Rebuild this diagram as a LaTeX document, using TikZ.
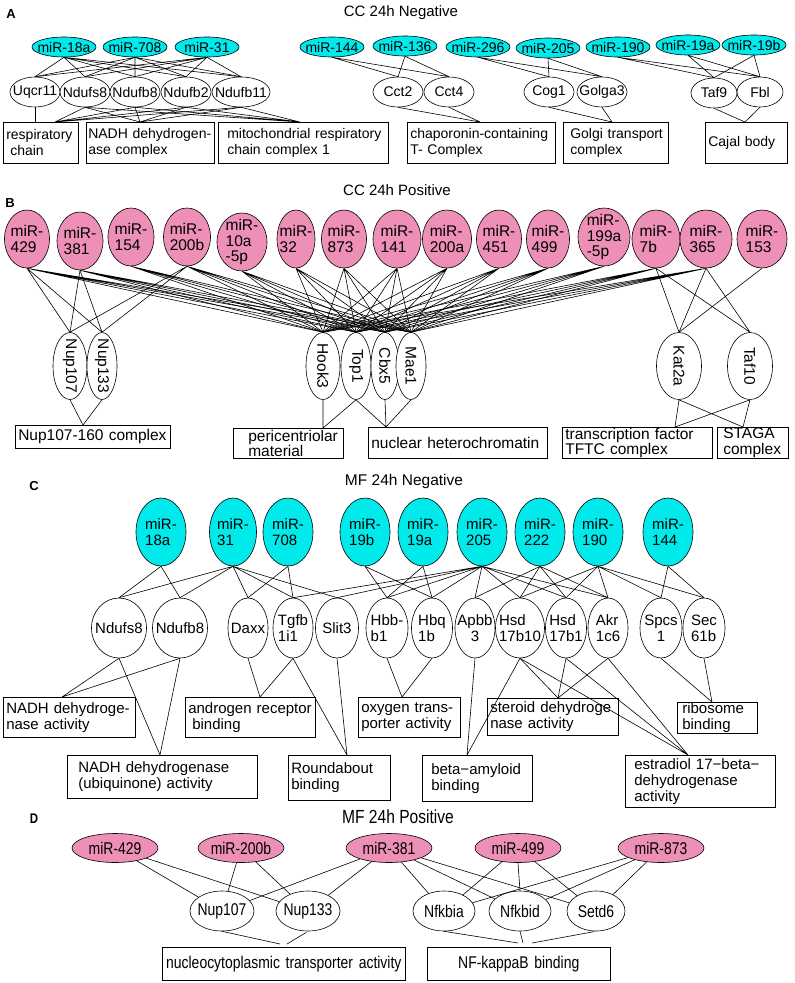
\documentclass[tikz,border=0pt]{standalone}
\usepackage{fontspec}
\setmainfont{Liberation Sans}
\newfontfamily\narrowfont[FakeStretch=0.82]{Liberation Sans}
\usetikzlibrary{shapes}

\definecolor{mircyan}{RGB}{0,234,236}
\definecolor{mirpink}{RGB}{237,143,183}

\begin{document}
\begin{tikzpicture}[x=1pt,y=-1pt,line width=0.6pt,
  mira/.style= {shape=ellipse,draw,inner sep=0,fill=mircyan,minimum width=64pt,minimum height=20pt},
  genea/.style= {shape=ellipse,draw,inner sep=0,fill=white,minimum width=50pt,minimum height=30pt},
  mirb/.style= {shape=ellipse,draw,inner sep=0,fill=mirpink,minimum width=46pt,minimum height=58pt},
  geneb/.style= {shape=ellipse,draw,inner sep=0,fill=white,minimum width=32pt,minimum height=67pt},
  mirc/.style= {shape=ellipse,draw,inner sep=0,fill=mircyan,minimum width=50pt,minimum height=68pt},
  genec/.style= {shape=ellipse,draw,inner sep=0,fill=white,minimum width=42pt,minimum height=60pt},
  mird/.style= {shape=ellipse,draw,inner sep=0,fill=mirpink,minimum width=86pt,minimum height=29pt},
  gened/.style= {shape=ellipse,draw,inner sep=0,fill=white,minimum width=64pt,minimum height=40pt},
  gobox/.style= {draw,anchor=north west,align=left,inner xsep=3pt,inner ysep=0pt},
  lbl/.style= {inner sep=0,align=left},
  heading/.style= {inner sep=0,anchor=base},
  tag/.style= {inner sep=0,anchor=base,font=\bfseries\fontsize{13}{15}\selectfont}]
  \fill[white] (0,0) rectangle (795,983);
  \useasboundingbox (0,0) rectangle (795,983);

  % Panel A
  \begin{scope}[font=\fontsize{14}{16}\selectfont]
  {\node[tag] (atag) at (11,18) {A};}
  {\node[heading,font=\fontsize{15}{17}\selectfont] (atitle) at (401,16) {CC 24h Negative};}
  % miRNAs
  {\node[mira] (a18a) at (64,47) { };}
  {\node[mira] (a708) at (135,47) { };}
  {\node[mira] (a31) at (207,47) { };}
  {\node[mira] (a144) at (332,47) { };}
  {\node[mira] (a136) at (405,46) { };}
  {\node[mira] (a296) at (478,47) { };}
  {\node[mira] (a205) at (548,48) { };}
  {\node[mira] (a190) at (618,47) { };}
  {\node[mira] (a19a) at (688,45) { };}
  {\node[mira] (a19b) at (754,45) { };}
  % genes
  {\node[genea] (auqcr) at (35,92) { };}
  {\node[genea] (andufs8) at (85,92) { };}
  {\node[genea] (andufb8) at (135,92) { };}
  {\node[genea] (andufb2) at (186,92) { };}
  {\node[genea][minimum width=58pt] (andufb11) at (241,92) { };}
  {\node[genea] (acct2) at (398,92) { };}
  {\node[genea] (acct4) at (449,92) { };}
  {\node[genea] (acog1) at (549,92) { };}
  {\node[genea] (agolga3) at (602,92) { };}
  {\node[genea][minimum width=46pt] (ataf9) at (714,93) { };}
  {\node[genea][minimum width=46pt] (afbl) at (760,92) { };}
  % labels
  {\node[lbl] (ta18a) at (a18a) {miR-18a};}
  {\node[lbl] (ta708) at (a708) {miR-708};}
  {\node[lbl] (ta31) at (a31) {miR-31};}
  {\node[lbl] (ta144) at (a144) {miR-144};}
  {\node[lbl] (ta136) at (a136) {miR-136};}
  {\node[lbl] (ta296) at (a296) {miR-296};}
  {\node[lbl] (ta205) at (a205) {miR-205};}
  {\node[lbl] (ta190) at (a190) {miR-190};}
  {\node[lbl] (ta19a) at (a19a) {miR-19a};}
  {\node[lbl] (ta19b) at (a19b) {miR-19b};}
  {\node[lbl] (tauqcr) at (auqcr) {Uqcr11};}
  {\node[lbl] (tandufs8) at (andufs8) {Ndufs8};}
  {\node[lbl] (tandufb8) at (andufb8) {Ndufb8};}
  {\node[lbl] (tandufb2) at (andufb2) {Ndufb2};}
  {\node[lbl] (tandufb11) at (andufb11) {Ndufb11};}
  {\node[lbl] (tacct2) at (acct2) {Cct2};}
  {\node[lbl] (tacct4) at (acct4) {Cct4};}
  {\node[lbl] (tacog1) at (acog1) {Cog1};}
  {\node[lbl] (tagolga3) at (agolga3) {Golga3};}
  {\node[lbl] (tataf9) at (ataf9) {Taf9};}
  {\node[lbl] (tafbl) at (afbl) {Fbl};}
  % GO terms
  {\node[gobox,text width=69pt,minimum height=41pt] (aresp) at (3,122) {respiratory\\\hspace{4pt}chain};}
  {\node[gobox,inner xsep=2pt,text width=124pt,minimum height=41pt] (anadh) at (86,122) {NADH dehydrogen-\\ase complex};}
  {\node[gobox,text width=164pt,minimum height=41pt] (amito) at (218,122) {\hspace{6pt}mitochondrial respiratory\\\hspace{6pt}chain complex 1};}
  {\node[gobox,text width=142pt,minimum height=41pt] (achap) at (407,122) {chaporonin-containing\\T- Complex};}
  {\node[gobox,text width=99pt,minimum height=41pt] (agolgi) at (563,122) {\hspace{4pt}Golgi transport\\\hspace{4pt}complex};}
  {\node[gobox,text width=76pt,minimum height=41pt] (acajal) at (705,122) {Cajal body};}
  \coordinate (arespin) at (55,122);
  \coordinate (arespv) at (auqcr.south |- arespin);
  \coordinate (anadhin) at (140,122);
  \coordinate (amitoin) at (300,122);
  \coordinate (achapin) at (480,122);
  \coordinate (agolgin) at (612,122);
  \coordinate (acajin) at (745,122);
  % edges
  \draw (a18a.south) -- (auqcr.north) (a18a.south) -- (andufs8.north) (a18a.south) -- (andufb8.north) (a18a.south) -- (andufb2.north) (a18a.south) -- (andufb11.north);
  \draw (a708.south) -- (auqcr.north) (a708.south) -- (andufs8.north) (a708.south) -- (andufb8.north) (a708.south) -- (andufb2.north) (a708.south) -- (andufb11.north);
  \draw (a31.south) -- (auqcr.north) (a31.south) -- (andufs8.north) (a31.south) -- (andufb8.north) (a31.south) -- (andufb2.north) (a31.south) -- (andufb11.north);
  \draw (a144.south) -- (acct2.north) (a144.south) -- (acct4.north) (a136.south) -- (acct2.north) (a136.south) -- (acct4.north);
  \draw (a296.south) -- (acog1.north) (a296.south) -- (agolga3.north) (a205.south) -- (acog1.north) (a205.south) -- (agolga3.north);
  \draw (a190.south) -- (ataf9.north) (a190.south) -- (afbl.north) (a19a.south) -- (ataf9.north) (a19a.south) -- (afbl.north) (a19b.south) -- (ataf9.north) (a19b.south) -- (afbl.north);
  \draw (auqcr.south) -- (arespv);
  \draw (andufs8.south) -- (arespin) (andufb8.south) -- (arespin) (andufb2.south) -- (arespin) (andufb11.south) -- (arespin);
  \draw (andufs8.south) -- (anadhin) (andufb8.south) -- (anadhin) (andufb2.south) -- (anadhin) (andufb11.south) -- (anadhin);
  \draw (andufs8.south) -- (amitoin) (andufb8.south) -- (amitoin) (andufb2.south) -- (amitoin) (andufb11.south) -- (amitoin);
  \draw (acct2.south) -- (achapin) (acct4.south) -- (achapin);
  \draw (acog1.south) -- (agolgin) (agolga3.south) -- (agolgin);
  \draw (ataf9.south) -- (acajin) (afbl.south) -- (acajin);
  \end{scope}

  % Panel B
  \begin{scope}[font=\fontsize{15.5}{15.5}\selectfont]
  {\node[tag] (btag) at (10,207) {B};}
  {\node[heading,font=\fontsize{15}{17}\selectfont] (btitle) at (397,195) {CC 24h Positive};}
  % miRNAs
  {\node[mirb][minimum width=45pt] (b429) at (27,239) { };}
  {\node[mirb] (b381) at (80,241) { };}
  {\node[mirb] (b154) at (131,237) { };}
  {\node[mirb][minimum width=47pt] (b200b) at (187,237) { };}
  {\node[mirb][minimum width=50pt] (b10a) at (242,242) { };}
  {\node[mirb][minimum width=38pt] (b32) at (296,239) { };}
  {\node[mirb][minimum width=45pt] (b873) at (344,239) { };}
  {\node[mirb][minimum width=48pt] (b141) at (397,239) { };}
  {\node[mirb][minimum width=49pt] (b200a) at (447,239) { };}
  {\node[mirb][minimum width=45pt] (b451) at (499,239) { };}
  {\node[mirb][minimum width=43pt] (b499) at (548,239) { };}
  {\node[mirb][minimum width=52pt] (b199a) at (604,237) { };}
  {\node[mirb][minimum width=48pt] (b7b) at (656,239) { };}
  {\node[mirb][minimum width=52pt] (b365) at (706,239) { };}
  {\node[mirb][minimum width=50pt] (b153) at (762,239) { };}
  % genes
  {\node[geneb][minimum width=34pt] (bnup107) at (70,366) { };}
  {\node[geneb][minimum width=30pt] (bnup133) at (102,366) { };}
  {\node[geneb][minimum width=34pt] (bhook3) at (323,366) { };}
  {\node[geneb][minimum width=30pt] (btop1) at (356,366) { };}
  {\node[geneb][minimum width=28pt] (bcbx5) at (385,366) { };}
  {\node[geneb][minimum width=30pt] (bmae1) at (411,366) { };}
  {\node[geneb][minimum width=45pt] (bkat2a) at (679,366) { };}
  {\node[geneb][minimum width=45pt] (btaf10) at (750,366) { };}
  % labels
  {\node[lbl] (tb429) at (b429) {miR-\\429};}
  {\node[lbl] (tb381) at (b381) {miR-\\381};}
  {\node[lbl] (tb154) at (b154) {miR-\\154};}
  {\node[lbl] (tb200b) at (b200b) {miR-\\200b};}
  {\node[lbl] (tb10a) at (b10a) {miR-\\10a\\-5p};}
  {\node[lbl] (tb32) at (b32) {miR-\\32};}
  {\node[lbl] (tb873) at (b873) {miR-\\873};}
  {\node[lbl] (tb141) at (b141) {miR-\\141};}
  {\node[lbl] (tb200a) at (b200a) {miR-\\200a};}
  {\node[lbl] (tb451) at (b451) {miR-\\451};}
  {\node[lbl] (tb499) at (b499) {miR-\\499};}
  {\node[lbl] (tb199a) at (b199a) {miR-\\199a\\-5p};}
  {\node[lbl] (tb7b) at (b7b) {miR-\\7b};}
  {\node[lbl] (tb365) at (b365) {miR-\\365};}
  {\node[lbl] (tb153) at (b153) {miR-\\153};}
  {\node[lbl,rotate=-90] (tbnup107) at (bnup107) {Nup107};}
  {\node[lbl,rotate=-90] (tbnup133) at (bnup133) {Nup133};}
  {\node[lbl,rotate=-90] (tbhook3) at (bhook3) {Hook3};}
  {\node[lbl,rotate=-90] (tbtop1) at (btop1) {Top1};}
  {\node[lbl,rotate=-90] (tbcbx5) at (bcbx5) {Cbx5};}
  {\node[lbl,rotate=-90] (tbmae1) at (bmae1) {Mae1};}
  {\node[lbl,rotate=-90] (tbkat2a) at (bkat2a) {Kat2a};}
  {\node[lbl,rotate=-90] (tbtaf10) at (btaf10) {Taf10};}
  % GO terms
  {\node[gobox,text width=149pt,minimum height=23pt] (bnupcx) at (15,425) {Nup107-160 complex};}
  {\node[gobox,text width=104pt,minimum height=30pt] (bpcm) at (233,428) {\hspace{12pt}pericentriolar\\\hspace{12pt}material};}
  {\node[gobox,text width=173pt,minimum height=31pt] (bnhc) at (368,427) {nuclear heterochromatin};}
  {\node[gobox,text width=144pt,minimum height=31pt] (btftc) at (562,427) {transcription factor\\TFTC complex};}
  {\node[gobox,text width=65pt,minimum height=31pt] (bstaga) at (717,427) {\hspace{3pt}STAGA\\\hspace{3pt}complex};}
  \coordinate (bnupin) at (83,425);
  \coordinate (bpcmin) at (323,428);
  \coordinate (bnhcin) at (386,427);
  \coordinate (btftcin) at (675,427);
  \coordinate (bstagin) at (743,427);
  % edges
  \draw (b429.south) -- (bnup107.north) (b429.south) -- (bnup133.north) (b381.south) -- (bnup107.north) (b381.south) -- (bnup133.north) (b200b.south) -- (bnup107.north) (b200b.south) -- (bnup133.north);
  \draw (b429.south) -- (bhook3.north) (b429.south) -- (btop1.north) (b429.south) -- (bcbx5.north) (b429.south) -- (bmae1.north);
  \draw (b381.south) -- (bhook3.north) (b381.south) -- (btop1.north) (b381.south) -- (bcbx5.north) (b381.south) -- (bmae1.north);
  \draw (b154.south) -- (bhook3.north) (b154.south) -- (btop1.north) (b154.south) -- (bcbx5.north) (b154.south) -- (bmae1.north);
  \draw (b200b.south) -- (bhook3.north) (b200b.south) -- (btop1.north) (b200b.south) -- (bcbx5.north) (b200b.south) -- (bmae1.north);
  \draw (b10a.south) -- (bhook3.north) (b10a.south) -- (btop1.north) (b10a.south) -- (bcbx5.north) (b10a.south) -- (bmae1.north);
  \draw (b32.south) -- (bhook3.north) (b32.south) -- (btop1.north) (b32.south) -- (bcbx5.north) (b32.south) -- (bmae1.north);
  \draw (b873.south) -- (bhook3.north) (b873.south) -- (btop1.north) (b873.south) -- (bcbx5.north) (b873.south) -- (bmae1.north);
  \draw (b141.south) -- (bhook3.north) (b141.south) -- (btop1.north) (b141.south) -- (bcbx5.north) (b141.south) -- (bmae1.north);
  \draw (b200a.south) -- (bhook3.north) (b200a.south) -- (btop1.north) (b200a.south) -- (bcbx5.north) (b200a.south) -- (bmae1.north);
  \draw (b451.south) -- (bhook3.north) (b451.south) -- (btop1.north) (b451.south) -- (bcbx5.north) (b451.south) -- (bmae1.north);
  \draw (b499.south) -- (bhook3.north) (b499.south) -- (btop1.north) (b499.south) -- (bcbx5.north) (b499.south) -- (bmae1.north);
  \draw (b199a.south) -- (bhook3.north) (b199a.south) -- (btop1.north) (b199a.south) -- (bcbx5.north) (b199a.south) -- (bmae1.north);
  \draw (b7b.south) -- (bhook3.north) (b7b.south) -- (btop1.north) (b7b.south) -- (bcbx5.north) (b7b.south) -- (bmae1.north);
  \draw (b365.south) -- (bhook3.north) (b365.south) -- (btop1.north) (b365.south) -- (bcbx5.north) (b365.south) -- (bmae1.north);
  \draw (b7b.south) -- (bkat2a.north) (b7b.south) -- (btaf10.north) (b365.south) -- (bkat2a.north) (b365.south) -- (btaf10.north) (b153.south) -- (bkat2a.north);
  \draw (bnup107.south) -- (bnupin) (bnup133.south) -- (bnupin);
  \draw (bhook3.south) -- (bpcmin) (btop1.south) -- (bpcmin);
  \draw (btop1.south) -- (bnhcin) (bcbx5.south) -- (bnhcin) (bmae1.south) -- (bnhcin);
  \draw (bkat2a.south) -- (btftcin) (btaf10.south) -- (btftcin) (bkat2a.south) -- (bstagin) (btaf10.south) -- (bstagin);
  \end{scope}

  % Panel C
  \begin{scope}[font=\fontsize{15}{16}\selectfont]
  {\node[tag] (ctag) at (34,490) {C};}
  {\node[heading,font=\fontsize{15.5}{17}\selectfont] (ctitle) at (404,485) {MF 24h Negative};}
  % miRNAs
  {\node[mirc] (c18a) at (161,532) { };}
  {\node[mirc][minimum width=47pt] (c31) at (233,532) { };}
  {\node[mirc] (c708) at (288,532) { };}
  {\node[mirc] (c19b) at (365,532) { };}
  {\node[mirc] (c19a) at (423,532) { };}
  {\node[mirc] (c205) at (482,532) { };}
  {\node[mirc] (c222) at (540,532) { };}
  {\node[mirc] (c190) at (598,532) { };}
  {\node[mirc] (c144) at (668,532) { };}
  % genes
  {\node[genec][minimum width=55pt] (cndufs8) at (119,628) { };}
  {\node[genec][minimum width=55pt] (cndufb8) at (180,628) { };}
  {\node[genec][minimum width=40pt] (cdaxx) at (248,628) { };}
  {\node[genec][minimum width=40pt] (ctgfb) at (293,628) { };}
  {\node[genec][minimum width=43pt] (cslit3) at (337,628) { };}
  {\node[genec] (chbb) at (387,628) { };}
  {\node[genec][minimum width=41pt] (chbq) at (432,628) { };}
  {\node[genec][minimum width=40pt] (capbb) at (475,628) { };}
  {\node[genec][minimum width=49pt] (chsd10) at (520,628) { };}
  {\node[genec][minimum width=41pt] (chsd1) at (566,628) { };}
  {\node[genec][minimum width=40pt] (cakr) at (608,628) { };}
  {\node[genec] (cspcs) at (661,628) { };}
  {\node[genec] (csec) at (704,628) { };}
  % labels
  {\node[lbl] (tc18a) at (c18a) {miR-\\18a};}
  {\node[lbl] (tc31) at (c31) {miR-\\31};}
  {\node[lbl] (tc708) at (c708) {miR-\\708};}
  {\node[lbl] (tc19b) at (c19b) {miR-\\19b};}
  {\node[lbl] (tc19a) at (c19a) {miR-\\19a};}
  {\node[lbl] (tc205) at (c205) {miR-\\205};}
  {\node[lbl] (tc222) at (c222) {miR-\\222};}
  {\node[lbl] (tc190) at (c190) {miR-\\190};}
  {\node[lbl] (tc144) at (c144) {miR-\\144};}
  {\node[lbl] (tcndufs8) at (cndufs8) {Ndufs8};}
  {\node[lbl] (tcndufb8) at (cndufb8) {Ndufb8};}
  {\node[lbl] (tcdaxx) at (cdaxx) {Daxx};}
  {\node[lbl] (tctgfb) at (ctgfb) {Tgfb\\1i1};}
  {\node[lbl] (tcslit3) at (cslit3) {Slit3};}
  {\node[lbl] (tchbb) at (chbb) {Hbb-\\b1};}
  {\node[lbl] (tchbq) at (chbq) {Hbq\\1b};}
  {\node[lbl,align=center] (tcapbb) at (capbb) {Apbb\\3};}
  {\node[lbl] (tchsd10) at (chsd10) {Hsd\\17b10};}
  {\node[lbl] (tchsd1) at (chsd1) {Hsd\\17b1};}
  {\node[lbl] (tcakr) at (cakr) {Akr\\1c6};}
  {\node[lbl,align=center] (tcspcs) at (cspcs) {Spcs\\1};}
  {\node[lbl] (tcsec) at (csec) {Sec\\61b};}
  % GO terms
  {\node[gobox,text width=126pt,minimum height=40pt] (cnadh) at (3,697) {NADH dehydroge-\\nase activity};}
  {\node[gobox,text width=124pt,minimum height=40pt] (candro) at (185,697) {androgen receptor\\\hspace{4pt}binding};}
  {\node[gobox,text width=96pt,minimum height=40pt] (coxy) at (358,697) {oxygen trans-\\porter activity};}
  {\node[gobox,text width=125pt,minimum height=37pt] (cster) at (487,698) {steroid dehydroge\\nase activity};}
  {\node[gobox,text width=74pt,minimum height=31pt] (cribo) at (677,702) {\hspace{2pt}ribosome\\\hspace{2pt}binding};}
  {\node[gobox,text width=184pt,minimum height=43pt] (cubiq) at (67,755) {\hspace{8pt}NADH dehydrogenase\\\hspace{8pt}(ubiquinone) activity};}
  {\node[gobox,text width=96pt,minimum height=45pt] (crobo) at (288,755) {Roundabout\\binding};}
  {\node[gobox,text width=104pt,minimum height=46pt] (camyl) at (422,755) {\hspace{6pt}beta−amyloid\\\hspace{6pt}binding};}
  {\node[gobox,text width=144pt,minimum height=52pt] (cestr) at (625,755) {\hspace{6pt}estradiol 17−beta−\\\hspace{6pt}dehydrogenase\\\hspace{6pt}activity};}
  \coordinate (cnadhin) at (62,697);
  \coordinate (cubiqin) at (160,755);
  \coordinate (candroin) at (260,697);
  \coordinate (crobin) at (347,755);
  \coordinate (coxyin) at (402,697);
  \coordinate (camylin) at (467,755);
  \coordinate (csterin) at (558,698);
  \coordinate (cestrin) at (688,755);
  \coordinate (cribin) at (712,702);
  % edges
  \draw (c18a.south) -- (cndufs8.north) (c18a.south) -- (cndufb8.north);
  \draw (c31.south) -- (cndufs8.north) (c31.south) -- (cndufb8.north) (c31.south) -- (cdaxx.north) (c31.south) -- (ctgfb.north) (c31.south) -- (cslit3.north);
  \draw (c708.south) -- (cdaxx.north) (c708.south) -- (ctgfb.north);
  \draw (c19b.south) -- (chbb.north) (c19b.south) -- (chbq.north);
  \draw (c19a.south) -- (chbb.north) (c19a.south) -- (chbq.north);
  \draw (c205.south) -- (ctgfb.north) (c205.south) -- (cslit3.north) (c205.south) -- (chbb.north) (c205.south) -- (chbq.north) (c205.south) -- (capbb.north) (c205.south) -- (chsd10.north) (c205.south) -- (chsd1.north) (c205.south) -- (cakr.north);
  \draw (c222.south) -- (capbb.north) (c222.south) -- (chsd10.north) (c222.south) -- (chsd1.north) (c222.south) -- (cakr.north);
  \draw (c190.south) -- (chsd10.north) (c190.south) -- (chsd1.north) (c190.south) -- (cakr.north) (c190.south) -- (cspcs.north) (c190.south) -- (csec.north);
  \draw (c144.south) -- (cspcs.north) (c144.south) -- (csec.north);
  \draw (cndufs8.south) -- (cnadhin) (cndufb8.south) -- (cnadhin) (cndufs8.south) -- (cubiqin) (cndufb8.south) -- (cubiqin);
  \draw (cdaxx.south) -- (candroin) (ctgfb.south) -- (candroin) (ctgfb.south) -- (crobin) (cslit3.south) -- (crobin);
  \draw (chbb.south) -- (coxyin) (chbq.south) -- (coxyin);
  \draw (capbb.south) -- (camylin) (chsd10.south) -- (camylin);
  \draw (chsd10.south) -- (csterin) (chsd1.south) -- (csterin) (cakr.south) -- (csterin);
  \draw (chsd10.south) -- (cestrin) (chsd1.south) -- (cestrin) (cakr.south) -- (cestrin);
  \draw (cspcs.south) -- (cribin) (csec.south) -- (cribin);
  \end{scope}

  % Panel D
  \begin{scope}[font=\narrowfont\fontsize{17}{19}\selectfont]
  {\node[tag,font=\narrowfont\bfseries\fontsize{14}{16}\selectfont] (dtag) at (34,823) {D};}
  {\node[heading,font=\narrowfont\fontsize{19}{21}\selectfont] (dtitle) at (398,823) {MF 24h Positive};}
  % miRNAs
  {\node[mird] (d429) at (115,848) { };}
  {\node[mird] (d200b) at (241,848) { };}
  {\node[mird] (d381) at (389,848) { };}
  {\node[mird] (d499) at (518,848) { };}
  {\node[mird] (d873) at (661,848) { };}
  % genes
  {\node[gened] (dnup107) at (222,911) { };}
  {\node[gened] (dnup133) at (308,911) { };}
  {\node[gened][minimum width=62pt] (dnfkbia) at (444,911) { };}
  {\node[gened][minimum width=62pt] (dnfkbid) at (520,911) { };}
  {\node[gened][minimum width=58pt] (dsetd6) at (596,911) { };}
  % labels
  {\node[lbl] (td429) at (d429) {miR-429};}
  {\node[lbl] (td200b) at (d200b) {miR-200b};}
  {\node[lbl] (td381) at (d381) {miR-381};}
  {\node[lbl] (td499) at (d499) {miR-499};}
  {\node[lbl] (td873) at (d873) {miR-873};}
  {\node[lbl] (tdnup107) at (dnup107) {Nup107};}
  {\node[lbl] (tdnup133) at (dnup133) {Nup133};}
  {\node[lbl] (tdnfkbia) at (dnfkbia) {Nfkbia};}
  {\node[lbl] (tdnfkbid) at (dnfkbid) {Nfkbid};}
  {\node[lbl] (tdsetd6) at (dsetd6) {Setd6};}
  % GO terms
  {\node[gobox,align=center,inner xsep=1pt,text width=241pt,minimum height=33pt] (dnuc) at (162,947) {nucleocytoplasmic transporter activity};}
  {\node[gobox,align=center,text width=177pt,minimum height=33pt] (dnfk) at (427,947) {NF-kappaB binding};}
  \coordinate (dnucinl) at (280,944);
  \coordinate (dnucinr) at (287,944);
  \coordinate (dnfkinl) at (518,943);
  \coordinate (dnfkinm) at (523,943);
  \coordinate (dnfkinr) at (532,943);
  % edges
  \draw (d429) -- (dnup107) (d429) -- (dnup133);
  \draw (d200b) -- (dnup107) (d200b) -- (dnup133);
  \draw (d381) -- (dnup107) (d381) -- (dnup133) (d381) -- (dnfkbia) (d381) -- (dnfkbid) (d381) -- (dsetd6);
  \draw (d499) -- (dnfkbia) (d499.south) -- (dnfkbid.north) (d499) -- (dsetd6);
  \draw (d873) -- (dnfkbia) (d873) -- (dnfkbid) (d873) -- (dsetd6);
  \draw[shorten <=2pt] (dnup107.south) -- (dnucinl) (dnup133.south) -- (dnucinr);
  \draw[shorten <=2pt] (dnfkbia.south) -- (dnfkinl) (dnfkbid.south) -- (dnfkinm) (dsetd6.south) -- (dnfkinr);
  \end{scope}
\end{tikzpicture}
\end{document}
